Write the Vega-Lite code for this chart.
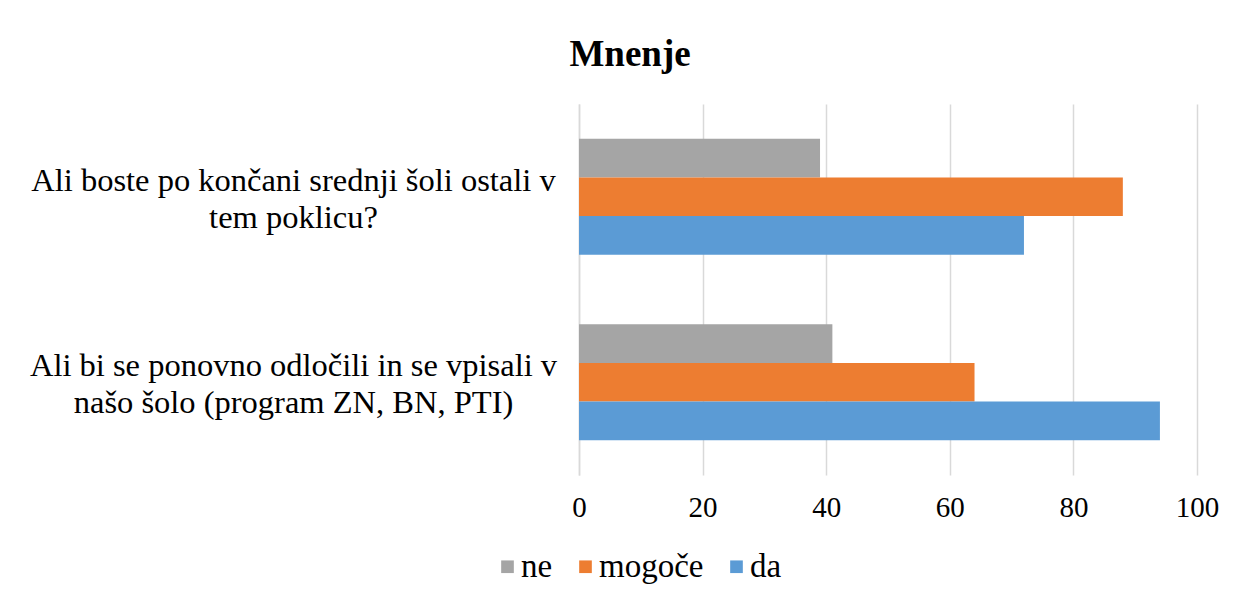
{
  "$schema": "https://vega.github.io/schema/vega-lite/v6.json",
  "width": 618,
  "height": 371,
  "autosize": {"type": "none"},
  "padding": {"left": 579, "top": 104, "right": 40, "bottom": 118},
  "background": "white",
  "title": {
    "text": "Mnenje",
    "font": "Liberation Serif",
    "fontSize": 37,
    "fontWeight": "bold",
    "color": "#000000",
    "anchor": "middle",
    "frame": "group",
    "dx": -258,
    "offset": 30
  },
  "data": {
    "values": [
      {"vprasanje": "q1", "odgovor": "ne", "vrednost": 39},
      {"vprasanje": "q1", "odgovor": "mogoče", "vrednost": 88},
      {"vprasanje": "q1", "odgovor": "da", "vrednost": 72},
      {"vprasanje": "q2", "odgovor": "ne", "vrednost": 41},
      {"vprasanje": "q2", "odgovor": "mogoče", "vrednost": 64},
      {"vprasanje": "q2", "odgovor": "da", "vrednost": 94}
    ]
  },
  "mark": {"type": "bar"},
  "encoding": {
    "y": {
      "field": "vprasanje",
      "type": "nominal",
      "sort": ["q1", "q2"],
      "scale": {"paddingInner": 0.375, "paddingOuter": 0.1875},
      "axis": {
        "title": null,
        "labelExpr": "datum.value == 'q1' ? ['Ali boste po končani srednji šoli ostali v', 'tem poklicu?'] : ['Ali bi se ponovno odločili in se vpisali v', 'našo šolo (program ZN, BN, PTI)']",
        "labelAlign": "center",
        "labelBaseline": "middle",
        "labelPadding": 286,
        "labelOffset": -16,
        "labelLimit": 700,
        "labelFontSize": 32.5,
        "labelLineHeight": 37,
        "labelColor": "#000000",
        "ticks": false,
        "domain": true,
        "domainColor": "#d9d9d9",
        "domainWidth": 1.5
      }
    },
    "yOffset": {
      "field": "odgovor",
      "type": "nominal",
      "sort": ["ne", "mogoče", "da"],
      "scale": {"paddingInner": 0, "paddingOuter": 0}
    },
    "x": {
      "field": "vrednost",
      "type": "quantitative",
      "scale": {"domain": [0, 100], "nice": false},
      "axis": {
        "title": null,
        "values": [0, 20, 40, 60, 80, 100],
        "grid": true,
        "gridColor": "#d9d9d9",
        "gridWidth": 1.5,
        "domain": false,
        "ticks": false,
        "labelFontSize": 29,
        "labelColor": "#000000",
        "labelPadding": 18,
        "labelFlush": false
      }
    },
    "color": {
      "field": "odgovor",
      "type": "nominal",
      "sort": ["ne", "mogoče", "da"],
      "scale": {"domain": ["ne", "mogoče", "da"], "range": ["#a5a5a5", "#ed7d31", "#5b9bd5"]},
      "legend": {
        "title": null,
        "orient": "none",
        "direction": "horizontal",
        "legendX": -88,
        "legendY": 446,
        "symbolType": "square",
        "symbolSize": 160,
        "symbolStrokeWidth": 0,
        "labelFontSize": 33,
        "labelColor": "#000000",
        "labelOffset": -3,
        "columnPadding": 16
      }
    }
  },
  "config": {
    "font": "Liberation Serif",
    "axis": {"labelFont": "Liberation Serif"},
    "legend": {"labelFont": "Liberation Serif"},
    "view": {"stroke": null}
  }
}
